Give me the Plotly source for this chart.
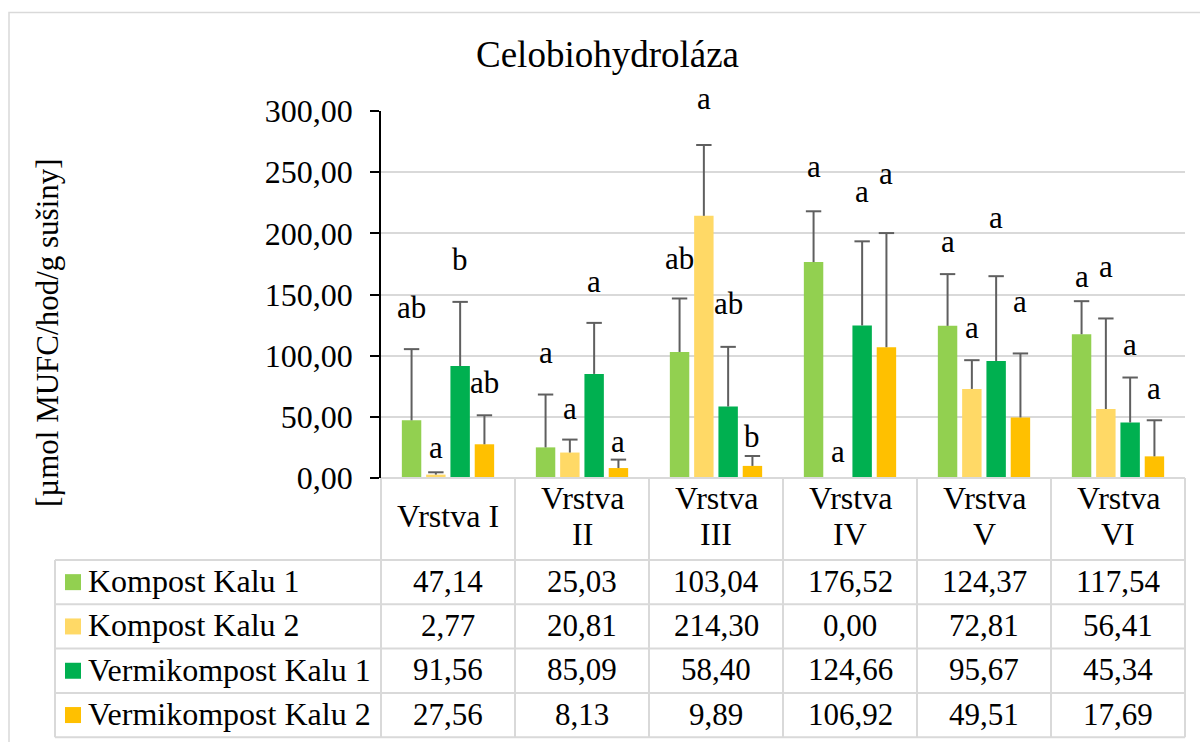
import plotly.graph_objects as go

# ---------------- data ----------------
categories = ["Vrstva I", "Vrstva II", "Vrstva III", "Vrstva IV", "Vrstva V", "Vrstva VI"]
header_labels = ["Vrstva I", "Vrstva<br>II", "Vrstva<br>III", "Vrstva<br>IV", "Vrstva<br>V", "Vrstva<br>VI"]
series_names = ["Kompost Kalu 1", "Kompost Kalu 2", "Vermikompost Kalu 1", "Vermikompost Kalu 2"]
series_colors = ["#92D050", "#FFD966", "#00B050", "#FFC000"]

kompost1 = [47.14, 25.03, 103.04, 176.52, 124.37, 117.54]
kompost2 = [2.77, 20.81, 214.30, 0.00, 72.81, 56.41]
vermi1 = [91.56, 85.09, 58.40, 124.66, 95.67, 45.34]
vermi2 = [27.56, 8.13, 9.89, 106.92, 49.51, 17.69]

kompost1_err = [58.2, 43.2, 43.7, 41.5, 42.3, 27.0]
kompost2_err = [1.9, 10.6, 57.9, None, 23.5, 74.0]
vermi1_err = [52.4, 41.7, 48.8, 68.8, 69.3, 36.8]
vermi2_err = [23.7, 6.9, 8.1, 93.3, 52.3, 29.5]

kompost1_letters = ["ab", "a", "ab", "a", "a", "a"]
kompost2_letters = ["a", "a", "a", "a", "a", "a"]
vermi1_letters = ["b", "a", "ab", "a", "a", "a"]
vermi2_letters = ["ab", "a", "b", "a", "a", "a"]

kompost1_letter_y = [138.9, 102.0, 178.9, 254.2, 192.8, 164.2]
kompost2_letter_y = [24.3, 56.2, 309.0, 21.0, 122.5, 172.4]
vermi1_letter_y = [178.0, 160.0, 142.1, 233.0, 212.5, 108.6]
vermi2_letter_y = [77.5, 29.2, 33.3, 248.5, 143.8, 72.6]

y_tick_values = [0, 50, 100, 150, 200, 250, 300]
chart_title = "Celobiohydroláza"
y_title = "[µmol MUFC/hod/g sušiny]"

series_values = [kompost1, kompost2, vermi1, vermi2]
series_errors = [kompost1_err, kompost2_err, vermi1_err, vermi2_err]
series_letters = [kompost1_letters, kompost2_letters, vermi1_letters, vermi2_letters]
series_letter_y = [kompost1_letter_y, kompost2_letter_y, vermi1_letter_y, vermi2_letter_y]

# ---------------- layout geometry (pixels) ----------------
W, H = 1200, 742
L, R, T, B = 381, 1185, 111, 478
FONT = "'Liberation Serif', 'Times New Roman', serif"
GRID = "#d9d9d9"
ERR = "#5f5f5f"
BARGAP = 0.275
GROUPGAP = 0.2
n_cat = len(categories)
n_ser = len(series_names)
slot = (1 - BARGAP) / n_ser
bar_w = slot * (1 - GROUPGAP)
YMAX = y_tick_values[-1]


def px_x(X):
    return (X - L) / (R - L)


def px_y(Y):
    return (B - Y) / (B - T)


def center_offset(j):
    return -(1 - BARGAP) / 2 + (j + 0.5) * slot


def fmt(v):
    return f"{v:.2f}".replace(".", ",")


fig = go.Figure()
xs = list(range(n_cat))

for j in range(n_ser):
    fig.add_trace(go.Bar(
        x=xs, y=series_values[j], name=series_names[j],
        marker=dict(color=series_colors[j], line=dict(width=0)),
        offset=center_offset(j) - bar_w / 2, width=bar_w,
        showlegend=False, hoverinfo="skip",
    ))

# error bars (upper only) drawn as line segments + caps
for j in range(n_ser):
    ex, ey, cx, cy = [], [], [], []
    for i in range(n_cat):
        e = series_errors[j][i]
        if e is None:
            continue
        xc = i + center_offset(j)
        v = series_values[j][i]
        ex += [xc, xc, None]
        ey += [v, v + e, None]
        cx.append(xc)
        cy.append(v + e)
    fig.add_trace(go.Scatter(x=ex, y=ey, mode="lines",
                             line=dict(color=ERR, width=2),
                             showlegend=False, hoverinfo="skip"))
    fig.add_trace(go.Scatter(x=cx, y=cy, mode="markers",
                             marker=dict(symbol="line-ew", size=11,
                                         line=dict(color=ERR, width=2)),
                             showlegend=False, hoverinfo="skip"))

annotations = []
shapes = []

# significance letters
for j in range(n_ser):
    for i in range(n_cat):
        annotations.append(dict(
            x=i + center_offset(j), xref="x",
            y=series_letter_y[j][i] / YMAX, yref="paper",
            text=series_letters[j][i], showarrow=False,
            xanchor="center", yanchor="middle", yshift=1,
            font=dict(family=FONT, size=31, color="#000000"),
        ))

# title and y axis title
annotations.append(dict(x=px_x(607), y=px_y(55), xref="paper", yref="paper",
                        text=chart_title, showarrow=False, xanchor="center", yanchor="middle",
                        font=dict(family=FONT, size=37, color="#000000")))
annotations.append(dict(x=px_x(47), y=px_y(333), xref="paper", yref="paper",
                        text=y_title, showarrow=False, textangle=-90,
                        xanchor="center", yanchor="middle",
                        font=dict(family=FONT, size=31, color="#000000")))

# ---------------- data table ----------------
header_bottom = 560
row_h = 44.3
row_lines = [header_bottom + k * row_h for k in range(n_ser + 1)]
legend_left = 55
table_bottom = row_lines[-1]
header_line_gap = 36

line_style = dict(color=GRID, width=2)
for k in range(n_cat + 1):
    shapes.append(dict(type="line", xref="paper", yref="paper",
                       x0=k / n_cat, x1=k / n_cat, y0=px_y(B), y1=px_y(table_bottom),
                       line=line_style))
shapes.append(dict(type="line", xref="paper", yref="paper",
                   x0=px_x(legend_left), x1=px_x(legend_left),
                   y0=px_y(header_bottom), y1=px_y(table_bottom), line=line_style))
for yl in row_lines:
    shapes.append(dict(type="line", xref="paper", yref="paper",
                       x0=px_x(legend_left), x1=1, y0=px_y(yl), y1=px_y(yl),
                       line=line_style))
shapes.append(dict(type="line", xref="paper", yref="paper",
                   x0=0, x1=1, y0=0, y1=0, line=line_style))

header_center = (B + header_bottom) / 2 - 3
for i in range(n_cat):
    lines = header_labels[i].split("<br>")
    nl = len(lines)
    for li, txt in enumerate(lines):
        yl = header_center + (li - (nl - 1) / 2) * header_line_gap
        annotations.append(dict(x=(i + 0.5) / n_cat, y=px_y(yl),
                                xref="paper", yref="paper", text=txt,
                                showarrow=False, xanchor="center", yanchor="middle",
                                font=dict(family=FONT, size=32, color="#000000")))

for j in range(n_ser):
    yc = (row_lines[j] + row_lines[j + 1]) / 2
    shapes.append(dict(type="rect", xref="paper", yref="paper",
                       x0=px_x(65), x1=px_x(81), y0=px_y(yc - 8), y1=px_y(yc + 8),
                       fillcolor=series_colors[j], line=dict(width=0)))
    annotations.append(dict(x=px_x(86), y=px_y(yc - 1), xref="paper", yref="paper",
                            text=series_names[j], showarrow=False,
                            xanchor="left", yanchor="middle",
                            font=dict(family=FONT, size=32, color="#000000")))
    for i in range(n_cat):
        annotations.append(dict(x=(i + 0.5) / n_cat, y=px_y(yc - 1),
                                xref="paper", yref="paper", text=fmt(series_values[j][i]),
                                showarrow=False, xanchor="center", yanchor="middle",
                                font=dict(family=FONT, size=31, color="#000000")))

shapes.append(dict(type="rect", xref="paper", yref="paper",
                   x0=px_x(9), x1=px_x(1230), y0=px_y(12.5), y1=px_y(780),
                   line=dict(color=GRID, width=1.5), fillcolor="rgba(0,0,0,0)", layer="below"))

fig.update_layout(
    width=W, height=H,
    margin=dict(l=L, r=W - R, t=T, b=H - B, pad=0),
    paper_bgcolor="white", plot_bgcolor="white",
    barmode="overlay",
    separators=", ",
    font=dict(family=FONT, size=30, color="#000000"),
    showlegend=False,
    annotations=annotations,
    shapes=shapes,
)
fig.update_xaxes(range=[-0.5, n_cat - 0.5], showticklabels=False, showgrid=False,
                 zeroline=False, showline=False, ticks="")
fig.update_yaxes(range=[0, YMAX], tickvals=y_tick_values, tickformat=".2f",
                 showgrid=True, gridcolor=GRID, gridwidth=2, zeroline=False,
                 showline=True, linecolor="#000000", linewidth=1.5,
                 ticks="outside", ticklen=9, tickwidth=1.5, tickcolor="#000000",
                 ticklabelstandoff=11,
                 tickfont=dict(family=FONT, size=32, color="#000000"))

fig.write_html("out.html", config={"displayModeBar": False},
               post_script="document.body.style.margin='0';document.body.style.overflow='hidden';")
